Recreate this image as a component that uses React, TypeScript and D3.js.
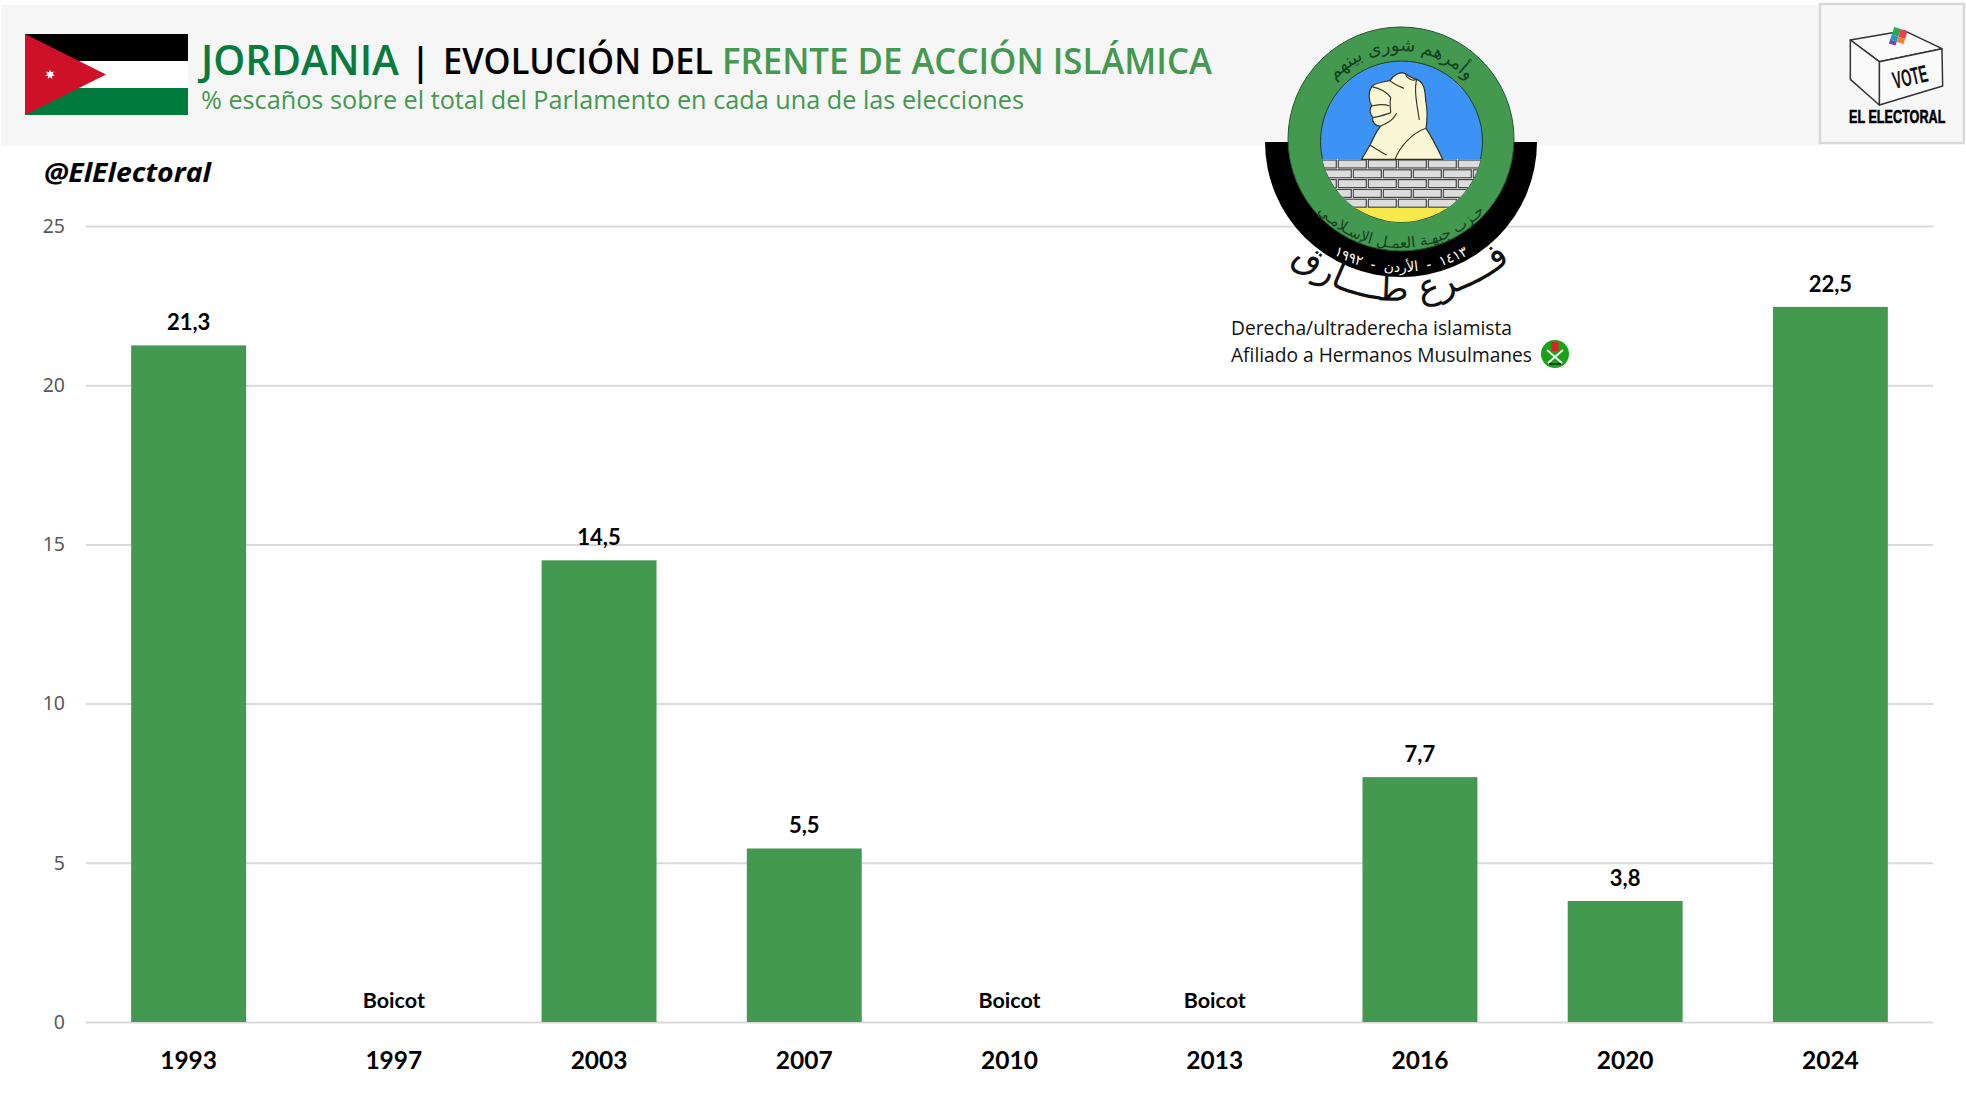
import React, { useEffect, useRef } from "react";
import * as d3 from "d3";

// Seats share per election, null = boycott
const years = ["1993", "1997", "2003", "2007", "2010", "2013", "2016", "2020", "2024"];
const seatShare: (number | null)[] = [21.25, null, 14.5, 5.45, null, null, 7.69, 3.8, 22.46];
const yTicks = [0, 5, 10, 15, 20, 25];
const boycottLabel = "Boicot";

const WIDTH = 1966;
const HEIGHT = 1117;
const GREEN = "#43994f";
const DARK_GREEN = "#0a7b3e";
const LABEL_FONT = "Lato, Carlito, sans-serif";
const TITLE_FONT = "'Open Sans', 'Noto Sans', sans-serif";
const NARROW_FONT = "'Liberation Sans', sans-serif";

const plot = { left: 86, right: 1933, top: 226, bottom: 1022 };

// seven pointed star of the Jordanian flag
const starPath = d3
  .lineRadial<number>()
  .angle((_, i) => (i * Math.PI) / 7)
  .radius((_, i) => (i % 2 ? 2.6 : 5))
  .curve(d3.curveLinearClosed)(d3.range(14)) as string;

const Flag = () => (
  <g>
    <rect x={25} y={34} width={163} height={27} fill="#000" />
    <rect x={25} y={61} width={163} height={27} fill="#fff" />
    <rect x={25} y={88} width={163} height={27} fill="#007a3d" />
    <polygon points="25,34 106,74.5 25,115" fill="#ce1126" />
    <path d={starPath} transform="translate(50,74.5)" fill="#fff" />
  </g>
);

const Header = () => (
  <g>
    <rect x={1} y={5} width={1820} height={141} fill="#f6f6f6" />
    <Flag />
    <text x={201} y={75} fontFamily={TITLE_FONT} fontWeight={600} fontSize={42} fill={DARK_GREEN} textLength={198} lengthAdjust="spacingAndGlyphs">JORDANIA</text>
    <text x={410} y={75} fontFamily={TITLE_FONT} fontWeight={600} fontSize={38} fill="#000">|</text>
    <text x={443} y={74} fontFamily={TITLE_FONT} fontWeight={600} fontSize={36} fill="#000" textLength={270} lengthAdjust="spacingAndGlyphs">EVOLUCIÓN DEL</text>
    <text x={722} y={74} fontFamily={TITLE_FONT} fontWeight={600} fontSize={36} fill={GREEN} textLength={490} lengthAdjust="spacingAndGlyphs">FRENTE DE ACCIÓN ISLÁMICA</text>
    <text x={201} y={109} fontFamily={TITLE_FONT} fontSize={25.5} fill={GREEN} textLength={823} lengthAdjust="spacingAndGlyphs">% escaños sobre el total del Parlamento en cada una de las elecciones</text>
    <text x={44} y={182} fontFamily={TITLE_FONT} fontWeight={700} fontStyle="italic" fontSize={27} fill="#000" textLength={167} lengthAdjust="spacingAndGlyphs">@ElElectoral</text>
  </g>
);

const BallotLogo = () => (
  <g>
    <rect x={1820} y={4} width={144} height={139} fill="#f7f7f7" stroke="#d9d9d9" strokeWidth={2.5} />
    <g transform="translate(1816,0) scale(0.3333)" stroke="#333" strokeWidth={4.5} strokeLinejoin="round">
      <polygon points="103,120 265,92 378,146 190,185" fill="#fafafa" />
      <polygon points="190,185 378,146 380,258 190,315" fill="#fafafa" />
      <polygon points="103,120 190,185 190,315 103,238" fill="#fafafa" />
      <g transform="translate(246,114) rotate(18)" stroke="none">
        <rect x={-21} y={-28} width={21} height={24} fill="#2fa84f" />
        <rect x={0} y={-28} width={21} height={24} fill="#ef3f55" />
        <rect x={-21} y={-4} width={21} height={16} fill="#1c9ad6" />
        <rect x={0} y={-4} width={21} height={16} fill="#f58020" />
        <rect x={-21} y={12} width={21} height={12} fill="#7b3fb0" />
      </g>
    </g>
    <text transform="translate(1912,85) rotate(-13) scale(0.62,1.15)" textAnchor="middle" fontFamily={NARROW_FONT} fontWeight={700} fontSize={21} fill="#111">VOTE</text>
    <text transform="translate(1849,123) scale(0.665,1)" fontFamily={NARROW_FONT} fontWeight={700} fontSize={19} fill="#000" stroke="#000" strokeWidth={0.6}>EL ELECTORAL</text>
  </g>
);

// party emblem, decoration only
const Emblem = () => {
  const cx = 1401;
  const cy = 140;
  const arcTop = (r: number) => `M${cx - r},${cy} A${r},${r} 0 0 1 ${cx + r},${cy}`;
  const arcBottom = (r: number) => `M${cx - r - 10},${cy - 6} A${r + 1},${r + 1} 0 0 0 ${cx + r + 10},${cy - 6}`;
  const rows = d3.range(5);
  const cols = d3.range(-2, 7);
  const arabic = "'DejaVu Sans', sans-serif";
  return (
    <g>
      <defs>
        <clipPath id="blueClip">
          <ellipse cx={1401.5} cy={141.5} rx={81} ry={80.5} />
        </clipPath>
        <path id="ringTop" d={arcTop(89)} />
        <path id="ringBottom" d={arcBottom(104)} />
        <path id="blackRing" d={arcBottom(128)} />
        <path id="bigRing" d={arcBottom(157)} />
      </defs>
      <path d={`M1265,142 H1537 A136,135 0 0 1 1265,142 Z`} fill="#000" />
      <ellipse cx={cx} cy={139} rx={113} ry={112} fill={GREEN} stroke="#24572e" strokeWidth={1} />
      <ellipse cx={1401.5} cy={141.5} rx={81} ry={80.5} fill="#3d93f5" stroke="#1d3d22" strokeWidth={1} />
      <g clipPath="url(#blueClip)">
        <rect x={1310} y={159} width={185} height={50} fill="#fff" />
        {rows.map((r) =>
          cols.map((c) => (
            <rect
              key={`${r}-${c}`}
              x={1308.3 + c * 30 + (r % 2 ? 15 : 0)}
              y={160 + r * 9.8}
              width={28}
              height={8}
              fill="#dcdcdc"
              stroke="#444"
              strokeWidth={1.2}
            />
          ))
        )}
        <rect x={1310} y={208} width={185} height={16} fill="#f7e84b" />
      </g>
      <g transform="translate(1260,20) scale(0.3333)">
        <path
          d="M305,418 L330,375 L350,335 L362,318 C345,318 335,305 338,292 C328,280 328,265 335,258 C325,240 325,215 335,200 C350,185 375,185 390,182 C400,165 420,155 435,160 C450,170 455,175 470,178 C490,185 495,205 497,240 C503,270 502,300 498,325 C515,350 535,390 548,418 Z"
          fill="#fbf6d5"
          stroke="#2f2f22"
          strokeWidth={3.5}
        />
        <path
          d="M335,258 C350,255 370,250 388,258 M338,292 C355,292 372,285 392,278 M335,200 C360,205 380,215 392,232 M390,182 C405,195 420,200 432,205 M435,160 C440,175 455,185 470,178 M498,325 C455,340 420,380 405,418 M362,318 C385,310 400,300 410,280 M330,375 C345,385 360,395 380,405 M470,178 C462,210 470,250 478,300 M392,232 C388,250 392,265 392,278"
          fill="none"
          stroke="#3a3a2a"
          strokeWidth={3.5}
        />
      </g>
      <text fontFamily={arabic} fontSize={18} fill="#14401f" direction="rtl" textAnchor="middle">
        <textPath href="#ringTop" startOffset="50%">وأمرهم شورى بينهم</textPath>
      </text>
      <text fontFamily={arabic} fontSize={15} fill="#14401f" direction="rtl" textAnchor="middle">
        <textPath href="#ringBottom" startOffset="50%">حـزب جبهـة العمـل الإسـلامـي</textPath>
      </text>
      <text fontFamily={arabic} fontSize={14} fill="#fff" direction="rtl" textAnchor="middle">
        <textPath href="#blackRing" startOffset="50%">{"١٤١٣\u00A0\u00A0-\u00A0\u00A0الأردن\u00A0\u00A0-\u00A0\u00A0١٩٩٢"}</textPath>
      </text>
      <text fontFamily={arabic} fontSize={36} fill="#111" direction="rtl" textAnchor="middle">
        <textPath href="#bigRing" startOffset="50%">فــــرع طــــارق</textPath>
      </text>
    </g>
  );
};

const Note = () => (
  <g fontFamily={TITLE_FONT} fontSize={19.5} fill="#111">
    <text x={1231} y={335} textLength={281} lengthAdjust="spacingAndGlyphs">Derecha/ultraderecha islamista</text>
    <text x={1231} y={362} textLength={301} lengthAdjust="spacingAndGlyphs">Afiliado a Hermanos Musulmanes</text>
    <g transform="translate(1555,354)">
      <circle r={14} fill="#18a318" />
      <rect x={-3.5} y={-12} width={7} height={9} fill="#d8232a" />
      <path d="M-8,-4 L7,9 M8,-4 L-7,9" stroke="#fff" strokeWidth={1.8} />
      <path d="M-6,10 H6" stroke="#0c3d0c" strokeWidth={2} />
    </g>
  </g>
);

export default function App() {
  const ref = useRef<SVGGElement | null>(null);

  useEffect(() => {
    const x = d3
      .scaleBand<string>()
      .domain(years)
      .range([plot.left, plot.right])
      .paddingInner(0.44)
      .paddingOuter(0.22);
    const y = d3.scaleLinear().domain([0, 25]).range([plot.bottom, plot.top]);

    const g = d3.select(ref.current);
    g.selectAll("*").remove();

    // gridlines + value axis
    const yAxis = g
      .append("g")
      .attr("transform", `translate(${plot.left},0)`)
      .call(
        d3
          .axisLeft(y)
          .tickValues(yTicks)
          .tickSize(-(plot.right - plot.left))
          .tickPadding(21)
      );
    yAxis.select(".domain").remove();
    yAxis.selectAll("line").attr("stroke", "#d9d9d9").attr("stroke-width", 2);
    yAxis
      .selectAll("text")
      .attr("fill", "#595959")
      .attr("font-family", "'Noto Sans', sans-serif")
      .attr("font-size", 19.5);

    const data = years.map((year, i) => ({ year, value: seatShare[i] }));
    const withValue = data.filter((d) => d.value !== null);

    g.append("g")
      .selectAll("rect")
      .data(withValue)
      .join("rect")
      .attr("x", (d) => x(d.year)!)
      .attr("y", (d) => y(d.value!))
      .attr("width", x.bandwidth())
      .attr("height", (d) => y(0) - y(d.value!))
      .attr("fill", GREEN);

    g.append("g")
      .selectAll("text")
      .data(data)
      .join("text")
      .attr("x", (d) => x(d.year)! + x.bandwidth() / 2)
      .attr("y", (d) => (d.value === null ? plot.bottom - 14 : y(d.value) - 15))
      .attr("text-anchor", "middle")
      .attr("font-family", LABEL_FONT)
      .attr("font-weight", 700)
      .attr("font-size", (d) => (d.value === null ? 21.5 : 22))
      .attr("fill", "#000")
      .text((d) => (d.value === null ? boycottLabel : d.value.toFixed(1).replace(".", ",")));

    const xAxis = g
      .append("g")
      .attr("transform", `translate(0,${plot.bottom})`)
      .call(d3.axisBottom(x).tickSize(0).tickPadding(30));
    xAxis.select(".domain").remove();
    xAxis
      .selectAll("text")
      .attr("fill", "#000")
      .attr("font-family", LABEL_FONT)
      .attr("font-weight", 700)
      .attr("font-size", 24.5);
  }, []);

  return (
    <svg
      width={WIDTH}
      height={HEIGHT}
      viewBox={`0 0 ${WIDTH} ${HEIGHT}`}
      style={{ position: "absolute", left: 0, top: 0, display: "block", background: "#fff" }}
    >
      <Header />
      <g ref={ref} />
      <Emblem />
      <Note />
      <BallotLogo />
    </svg>
  );
}
